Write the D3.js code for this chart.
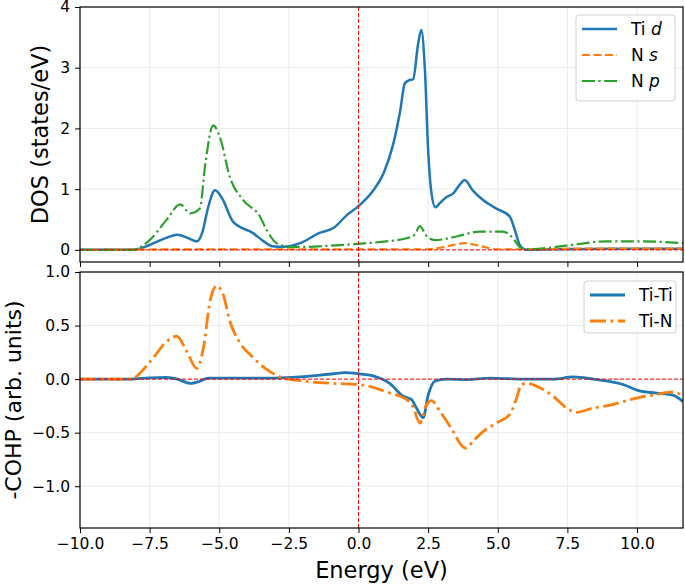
<!DOCTYPE html>
<html>
<head>
<meta charset="utf-8">
<script src="https://cdn.jsdelivr.net/npm/d3@7"></script>
<style>
  body { margin: 0; background: #fff; }
  text { font-family: "DejaVu Sans", sans-serif; }
</style>
</head>
<body>
<div id="chart"></div>
<script>
// energy grids and values
var tidE = [-10, -8.1, -7.5, -7.0, -6.5, -6.1, -5.8, -5.6, -5.4, -5.15, -4.9, -4.5, -3.8, -3.4, -3.1, -2.7, -2.1, -1.4, -0.9, -0.4, 0, 0.5, 0.9, 1.25, 1.5, 1.66, 1.8, 1.96, 2.14, 2.25, 2.38, 2.5, 2.62, 2.76, 2.92, 3.16, 3.4, 3.63, 3.81, 4.1, 4.47, 4.95, 5.43, 5.61, 5.79, 6.03, 7, 9, 11.65];
var tidV = [0, 0, 0.08, 0.18, 0.25, 0.19, 0.14, 0.3, 0.7, 0.98, 0.85, 0.46, 0.28, 0.14, 0.06, 0.05, 0.11, 0.28, 0.36, 0.58, 0.72, 0.96, 1.26, 1.75, 2.3, 2.74, 2.79, 2.81, 3.39, 3.62, 3.0, 1.64, 0.93, 0.70, 0.77, 0.87, 0.93, 1.07, 1.15, 0.98, 0.82, 0.68, 0.55, 0.33, 0.08, 0.0, 0.01, 0.02, 0.02];

var nsE = [-10, -8, -5, 0, 2.5, 3.2, 3.8, 4.4, 4.95, 6, 8, 11.65];
var nsV = [0, 0.005, 0.01, 0.01, 0.01, 0.06, 0.11, 0.06, 0.01, 0.01, 0.02, 0.02];

var npE = [-10, -8.1, -7.5, -6.9, -6.4, -6.05, -5.7, -5.5, -5.22, -4.98, -4.62, -4.14, -3.54, -3.3, -2.94, -2.47, -1.9, -1.0, 0, 1.0, 1.72, 2.02, 2.2, 2.44, 2.74, 3.52, 4.35, 5.19, 5.49, 5.85, 6.15, 7.46, 8.9, 10.1, 11.65];
var npV = [0, 0, 0.16, 0.49, 0.75, 0.60, 0.68, 1.42, 2.05, 1.86, 1.20, 0.82, 0.55, 0.33, 0.11, 0.05, 0.05, 0.07, 0.10, 0.14, 0.19, 0.25, 0.39, 0.23, 0.16, 0.22, 0.30, 0.30, 0.22, 0.03, 0.01, 0.07, 0.14, 0.14, 0.11];

var tititE = [-10, -8.2, -7.5, -6.9, -6.5, -6.05, -5.7, -5.4, -4, -3, -2.1, -0.9, -0.5, 0, 0.52, 1.12, 1.6, 1.9, 2.08, 2.32, 2.5, 2.74, 3.16, 3.88, 4.71, 5.91, 6.99, 7.71, 8.42, 9.5, 10.09, 10.69, 11.29, 11.65];
var tititV = [0, 0, 0.012, 0.015, 0.0, -0.04, -0.02, 0.01, 0.01, 0.01, 0.02, 0.05, 0.06, 0.05, 0.03, -0.04, -0.16, -0.19, -0.27, -0.36, -0.15, -0.02, 0.0, -0.005, 0.01, 0.0, 0.0, 0.02, 0.0, -0.05, -0.11, -0.13, -0.15, -0.21];

var tinE = [-10, -8.2, -7.49, -6.89, -6.53, -6.17, -5.81, -5.57, -5.33, -5.09, -4.86, -4.62, -4.26, -3.78, -3.3, -2.7, -2.1, -0.91, 0, 1.12, 1.72, 1.96, 2.2, 2.44, 2.62, 2.92, 3.4, 3.7, 3.85, 4.11, 4.47, 4.95, 5.43, 5.67, 5.85, 6.03, 6.51, 6.99, 7.47, 7.83, 8.42, 8.9, 9.5, 10.09, 10.57, 11.29, 11.65];
var tinV = [0, 0, 0.16, 0.35, 0.40, 0.26, 0.10, 0.29, 0.73, 0.87, 0.79, 0.54, 0.34, 0.20, 0.09, 0.01, -0.015, -0.04, -0.05, -0.13, -0.19, -0.26, -0.41, -0.24, -0.20, -0.30, -0.49, -0.62, -0.645, -0.58, -0.49, -0.41, -0.33, -0.18, -0.05, -0.04, -0.08, -0.16, -0.27, -0.31, -0.27, -0.25, -0.21, -0.17, -0.15, -0.12, -0.16];

var xTicks = [-10, -7.5, -5, -2.5, 0, 2.5, 5, 7.5, 10];
var dosTicks = [0, 1, 2, 3, 4];
var cohpTicks = [-1, -0.5, 0, 0.5, 1];

var W = 685, H = 585;
var left = 80, right = 683;
var top1 = 7, bot1 = 262, top2 = 272, bot2 = 528;

var svg = d3.select("#chart").append("svg")
  .attr("width", W).attr("height", H);

var x = d3.scaleLinear().domain([-10, 11.65]).range([left, right]);
var y1 = d3.scaleLinear().domain([-0.2, 4]).range([bot1, top1]);
var y2 = d3.scaleLinear().domain([-1.39, 1.0]).range([bot2, top2]);

var defs = svg.append("defs");
defs.append("clipPath").attr("id", "c1").append("rect")
  .attr("x", left).attr("y", top1).attr("width", right - left).attr("height", bot1 - top1);
defs.append("clipPath").attr("id", "c2").append("rect")
  .attr("x", left).attr("y", top2).attr("width", right - left).attr("height", bot2 - top2);

function panel(y, yTicks, fmt, clip, showX) {
  var g = svg.append("g");
  var y0 = y.range()[0], yTop = y.range()[1];

  // grid
  g.selectAll(".gx").data(xTicks).enter().append("line")
    .attr("x1", d => x(d)).attr("x2", d => x(d))
    .attr("y1", yTop).attr("y2", y0)
    .attr("stroke", "#ebebeb").attr("stroke-width", 1);
  g.selectAll(".gy").data(yTicks).enter().append("line")
    .attr("x1", left).attr("x2", right)
    .attr("y1", d => y(d)).attr("y2", d => y(d))
    .attr("stroke", "#ebebeb").attr("stroke-width", 1);

  var ax = g.append("g")
    .attr("transform", "translate(0," + y0 + ")")
    .call(d3.axisBottom(x).tickValues(xTicks).tickSize(5).tickPadding(5)
      .tickFormat(showX ? d3.format(".1f") : ""));
  var ay = g.append("g")
    .attr("transform", "translate(" + left + ",0)")
    .call(d3.axisLeft(y).tickValues(yTicks).tickSize(5).tickPadding(5).tickFormat(fmt));
  [ax, ay].forEach(function(a) {
    a.select(".domain").remove();
    a.selectAll("text").attr("font-size", 15.5).attr("fill", "#000")
      .attr("font-family", "DejaVu Sans");
    a.selectAll("line").attr("stroke", "#000").attr("stroke-width", 1);
  });

  var plot = g.append("g").attr("clip-path", "url(#" + clip + ")");
  return {g: g, plot: plot, y: y};
}

var p1 = panel(y1, dosTicks, d3.format("d"), "c1", false);
var p2 = panel(y2, cohpTicks, d3.format(".1f"), "c2", true);

function drawLine(p, xs, vs, color, width, dash) {
  var line = d3.line()
    .x(function(d, i) { return x(xs[i]); })
    .y(function(d) { return p.y(d); })
    .curve(d3.curveMonotoneX);
  p.plot.append("path")
    .attr("d", line(vs))
    .attr("fill", "none")
    .attr("stroke", color)
    .attr("stroke-width", width)
    .attr("stroke-linejoin", "round")
    .attr("stroke-dasharray", dash || null);
}

function refLines(p) {
  var yr = p.y.range();
  p.plot.append("line")
    .attr("x1", x(0)).attr("x2", x(0)).attr("y1", yr[1]).attr("y2", yr[0])
    .attr("stroke", "red").attr("stroke-width", 1).attr("stroke-dasharray", "4,2");
  p.plot.append("line")
    .attr("x1", left).attr("x2", right).attr("y1", p.y(0)).attr("y2", p.y(0))
    .attr("stroke", "red").attr("stroke-width", 1).attr("stroke-dasharray", "4,2");
}

drawLine(p1, tidE, tidV, "#1f77b4", 2.5);
drawLine(p1, nsE, nsV, "#ff7f0e", 2.2, "8,3.5");
drawLine(p1, npE, npV, "#2ca02c", 2.2, "13,3.5,2.2,3.5");
refLines(p1);

drawLine(p2, tititE, tititV, "#1f77b4", 2.8);
drawLine(p2, tinE, tinV, "#ff7f0e", 2.8, "16,4.5,2.8,4.5");
refLines(p2);

// frames
[[top1, bot1], [top2, bot2]].forEach(function(r) {
  svg.append("rect")
    .attr("x", left).attr("y", r[0]).attr("width", right - left).attr("height", r[1] - r[0])
    .attr("fill", "none").attr("stroke", "#000").attr("stroke-width", 1.2);
});

// axis labels
svg.append("text")
  .attr("transform", "translate(48," + ((top1 + bot1) / 2) + ") rotate(-90)")
  .attr("text-anchor", "middle").attr("font-size", 22.5)
  .text("DOS (states/eV)");
svg.append("text")
  .attr("transform", "translate(21," + ((top2 + bot2) / 2) + ") rotate(-90)")
  .attr("text-anchor", "middle").attr("font-size", 22)
  .text("-COHP (arb. units)");
svg.append("text")
  .attr("x", (left + right) / 2).attr("y", 578)
  .attr("text-anchor", "middle").attr("font-size", 22.5)
  .text("Energy (eV)");

// legends
function legend(x0, y0, w, h, items) {
  var lg = svg.append("g");
  lg.append("rect").attr("x", x0).attr("y", y0).attr("width", w).attr("height", h)
    .attr("rx", 3).attr("fill", "#fff").attr("fill-opacity", 0.85)
    .attr("stroke", "#d0d0d0").attr("stroke-width", 1);
  items.forEach(function(it, i) {
    var yy = y0 + 14 + i * 26;
    lg.append("line").attr("x1", x0 + 6).attr("x2", x0 + 41).attr("y1", yy).attr("y2", yy)
      .attr("stroke", it.color).attr("stroke-width", it.width)
      .attr("stroke-dasharray", it.dash || null);
    var t = lg.append("text").attr("x", x0 + 55).attr("y", yy + 6).attr("font-size", 17);
    t.append("tspan").text(it.label);
    if (it.ital) t.append("tspan").attr("font-style", "italic").text(" " + it.ital);
  });
}
legend(576, 15, 99, 86, [
  {label: "Ti", ital: "d", color: "#1f77b4", width: 2.5},
  {label: "N", ital: "s", color: "#ff7f0e", width: 2.2, dash: "8,3.5"},
  {label: "N", ital: "p", color: "#2ca02c", width: 2.2, dash: "13,3.5,2.2,3.5"}
]);
legend(584, 281, 92, 52, [
  {label: "Ti-Ti", color: "#1f77b4", width: 2.8},
  {label: "Ti-N", color: "#ff7f0e", width: 2.8, dash: "16,4.5,2.8,4.5"}
]);
</script>
</body>
</html>
